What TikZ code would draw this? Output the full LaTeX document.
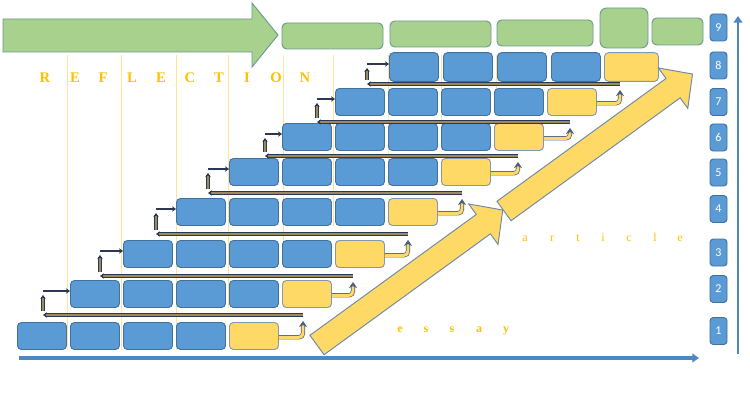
\documentclass[tikz,border=0pt]{standalone}
\usepackage{fontspec}
\setmainfont{Liberation Serif}
\newfontfamily\numfont{Carlito}
\usetikzlibrary{arrows.meta,calc}
\definecolor{blueF}{HTML}{5B9BD5}
\definecolor{blueD}{HTML}{41719C}
\definecolor{yelF}{HTML}{FFD966}
\definecolor{yelD}{HTML}{8497B0}
\definecolor{greenF}{HTML}{A9D18E}
\definecolor{greenD}{HTML}{6A9A8A}
\definecolor{bigD}{HTML}{6C88A8}
\definecolor{goldC}{HTML}{FFC000}
\definecolor{vlineC}{HTML}{FFE59A}
\definecolor{navyC}{HTML}{2A3853}
\definecolor{tanC}{HTML}{9C8A58}
\definecolor{curveD}{HTML}{4A5F80}
\definecolor{axisC}{HTML}{4F87C2}
\begin{document}
\begin{tikzpicture}[x=0.75pt,y=-0.75pt,
  bbox/.style={draw=blueD, fill=blueF, line width=0.7pt, rounded corners=3pt, minimum width=36.75pt, minimum height=20.25pt, inner sep=0pt, anchor=west},
  ybox/.style={bbox, draw=yelD, fill=yelF},
  gbox/.style={draw=greenD, fill=greenF, line width=0.7pt, rounded corners=3.5pt, inner sep=0pt},
  numbox/.style={draw=blueD, fill=blueF, line width=0.7pt, rounded corners=2.5pt, minimum width=12.75pt, minimum height=20.25pt, inner sep=0pt, text=white, font=\numfont\fontsize{9}{9}\selectfont},
  vline/.style={draw=vlineC, line width=0.6pt},
  retline/.style={draw=navyC, line width=0.6pt, double=tanC, double distance=1.2pt, -{Stealth[length=3pt,width=4pt]}},
  uparr/.style={retline},
  rarr/.style={draw=navyC, line width=1.5pt, -{Stealth[length=3pt,width=4pt]}},
  ycurve/.style={draw=curveD, line width=0.5pt, double=yelF, double distance=2.2pt, rounded corners=3pt, -{Stealth[length=4.5pt,width=6pt]}},
  bigarrow/.style={fill=yelF, draw=bigD, line width=0.7pt, line join=miter},
  greenarrow/.style={fill=greenF, draw=greenD, line width=0.7pt, line join=miter},
  axis/.style={draw=axisC, line width=2.6pt, -{Triangle[length=5pt,width=6.5pt]}},
  reftext/.style={text=goldC, font=\bfseries\fontsize{11}{12}\selectfont, anchor=base, inner sep=0pt},
  arttext/.style={text=goldC, font=\fontsize{9}{11}\selectfont, anchor=base, inner sep=0pt},
  esstext/.style={text=goldC, font=\bfseries\fontsize{9}{11}\selectfont, anchor=base, inner sep=0pt}
]
\useasboundingbox (0,0) rectangle (750,410);
\fill[white] (0,0) rectangle (750,410);

% faint vertical guide lines
\foreach \x/\yb in {67/350,121/350,176/350,228/308,283/267,333/226,388/186,441/150,496/116}
  \draw[vline] (\x,55) -- (\x,\yb);

% rows 1-7
\foreach \r/\x/\y in {1/17/336,2/70/294,3/123/254,4/176/212,5/229/172,6/282/137,7/335/102}{
  \foreach \c in {1,...,4}{
    \node[bbox] (r\r-\c) at ({\x+53*(\c-1)},\y) {};
  }
  \node[ybox] (r\r-5) at ({\x+212},\y) {};
}
% row 8
\foreach \c/\x in {1/389,2/443,3/497,4/551}{
  \node[bbox, minimum height=21.5pt] (r8-\c) at (\x,67) {};
}
\node[ybox, minimum width=40.5pt, minimum height=21.5pt] (r8-5) at (604,67) {};

% return connectors
\foreach \r/\n/\ly/\tx/\lx in {1/2/315/303/43,2/3/276/353/100,3/4/234/408/156,4/5/193/462/208,5/6/156/518/265,6/7/122/570/317,7/8/84/620/367}{
  \coordinate (t\r) at (\tx,\ly);
  \coordinate (l\r) at (\lx,\ly);
  \draw[ycurve] ([yshift=-1pt]r\r-5.east) -| ([yshift=-4.5pt]t\r);
  \draw[retline] (t\r) -- (l\r);
  \draw[uparr] ([yshift=3pt]l\r) -- ($(l\r |- r\n-1.west)+(0,1)$);
  \draw[rarr] ($(l\r |- r\n-1.west)+(0,-3)$) -- ($(r\n-1.west)+(0,-3)$);
}

% big yellow arrows
\draw[bigarrow, shift={(317,345)}, rotate=36] (0,-12) -- (205.6,-12) -- (205.6,-25) -- (229.6,0) -- (205.6,25) -- (205.6,12) -- (0,12) -- cycle;
\draw[bigarrow, shift={(504,211)}, rotate=36] (0,-12) -- (209,-12) -- (209,-25) -- (233,0) -- (209,25) -- (209,12) -- (0,12) -- cycle;

% green top row
\draw[greenarrow] (3,19) -- (252,19) -- (252,3) -- (278,35) -- (252,67) -- (252,52) -- (3,52) -- cycle;
\node[gbox, minimum width=75.75pt, minimum height=19.5pt] (g1) at (332.5,36) {};
\node[gbox, minimum width=75.75pt, minimum height=19.5pt] (g2) at (440.5,34) {};
\node[gbox, minimum width=72pt, minimum height=19.5pt] (g3) at (545,33) {};
\node[gbox, minimum width=36pt, minimum height=30pt, rounded corners=5pt] (g4) at (624,28) {};
\node[gbox, minimum width=38.25pt, minimum height=20.25pt] (g5) at (677.5,31.5) {};

% number column
\foreach \n/\y in {9/27.5,8/65.5,7/102,6/137.5,5/172.5,4/209,3/252.5,2/289,1/331}
  \node[numbox] (n\n) at (718.5,\y) {\n};

% axes
\coordinate (ax0) at (19,358);
\coordinate (ax1) at (699,358);
\coordinate (ay0) at (738,354);
\coordinate (ay1) at (738,16);
\draw[axis] (ax0) -- (ax1);
\draw[axis, line width=2.2pt] (ay0) -- (ay1);

% texts
\foreach \ch/\x [count=\i] in {R/45,E/75,F/103,L/132,E/161,C/190,T/219,I/247,O/276,N/305}
  \node[reftext] (ref\i) at (\x,83) {\ch};
\foreach \ch/\x [count=\i] in {a/525,r/552,t/578,i/603,c/629,l/655,e/680}
  \node[arttext] (art\i) at (\x,241) {\ch};
\foreach \ch/\x [count=\i] in {e/400,s/426,s/452,a/479,y/506}
  \node[esstext] (ess\i) at (\x,332) {\ch};
\end{tikzpicture}
\end{document}
